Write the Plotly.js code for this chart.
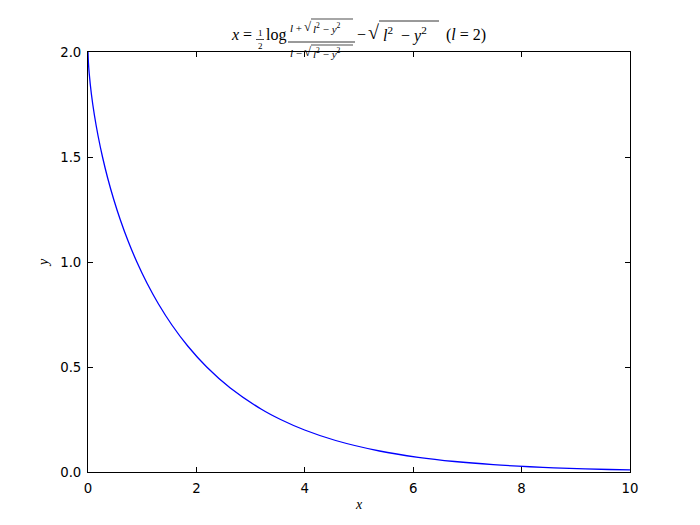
<!DOCTYPE html>
<html>
<head>
<meta charset="utf-8">
<script src="https://cdn.plot.ly/plotly-3.0.1.min.js"></script>
<style>html,body{margin:0;padding:0;background:#fff;}#chart{width:700px;height:525px;}</style>
</head>
<body>
<div id="chart"></div>
<script>
// Tractrix points (x, y)
const xValues = [0, 0.0075, 0.0215, 0.0624, 0.1178, 0.1863, 0.2679, 0.3628, 0.4723, 0.5972, 0.7396, 0.9018, 1.0873, 1.3006, 1.5482, 1.8397, 2.1903, 2.6252, 3.1918, 3.5531, 3.9965, 4.5696, 5.3792, 6.0918, 6.7644, 7.4775, 8.1504, 8.5967, 9.1719, 9.618, 10];
const yValues = [2.0, 1.95, 1.9, 1.8, 1.7, 1.6, 1.5, 1.4, 1.3, 1.2, 1.1, 1.0, 0.9, 0.8, 0.7, 0.6, 0.5, 0.4, 0.3, 0.25, 0.2, 0.15, 0.1, 0.07, 0.05, 0.035, 0.025, 0.02, 0.015, 0.012, 0.0099];
const xTicks = [0, 2, 4, 6, 8, 10];
const xTickLabels = ['0', '2', '4', '6', '8', '10'];
const yTicks = [0.0, 0.5, 1.0, 1.5, 2.0];
const yTickLabels = ['0.0', '0.5', '1.0', '1.5', '2.0'];

const M = {l: 88, r: 70, t: 52, b: 53};
const PW = 700 - M.l - M.r, PH = 525 - M.t - M.b;
const px = v => (v - M.l) / PW;
const py = v => (525 - M.b - v) / PH;
const SERIF = 'Liberation Serif, DejaVu Serif, serif';
function ann(text, x, y, size, anchor) {
  return {text: text, xref: 'paper', yref: 'paper', x: px(x), y: py(y),
    xanchor: anchor || 'left', yanchor: 'middle', showarrow: false,
    font: {family: SERIF, size: size, color: '#000'}};
}
function hline(x0, x1, y, w) {
  return {type: 'line', xref: 'paper', yref: 'paper', x0: px(x0), x1: px(x1), y0: py(y), y1: py(y),
    line: {color: '#000', width: w || 0.8}};
}
const RAD = '<i>l</i><sup>2</sup> − <i>y</i><sup>2</sup>';

const annotations = [
  ann('<i>x</i> =', 229, 35, 16),
  ann('1', 260, 33, 9, 'center'),
  ann('2', 260, 46, 9, 'center'),
  ann('log', 264, 35, 16),
  // numerator
  ann('<i>l</i> +', 288, 28, 11),
  ann('√', 302, 26, 13),
  ann(RAD, 311, 28, 11),
  // denominator
  ann('<i>l</i> −', 288, 53, 11),
  ann('√', 302, 51, 13),
  ann(RAD, 311, 53, 11),
  // trailing radical
  ann('−', 355, 35, 16),
  ann('√', 366, 32, 20),
  ann(RAD.replace(' − ', '  − '), 381, 35, 16),
  ann('(<i>l</i> = 2)', 444, 35, 16)
];
const shapes = [
  hline(256, 264, 39.5, 0.7),
  hline(288, 355, 42, 0.8),
  hline(311, 353, 19, 0.7),
  hline(311, 353, 45, 0.7),
  hline(379, 439, 21, 0.8)
];

const trace = {
  x: xValues, y: yValues, type: 'scatter', mode: 'lines',
  line: {color: '#0000ff', width: 1.3, shape: 'spline'},
  hoverinfo: 'skip'
};

const axisCommon = {
  showgrid: false, zeroline: false, showline: true, linecolor: '#000', linewidth: 1,
  mirror: 'allticks', ticks: 'inside', ticklen: 5, tickwidth: 1, tickcolor: '#000',
  tickfont: {family: 'DejaVu Sans, sans-serif', size: 13.3, color: '#000'}
};

const layout = {
  width: 700, height: 525,
  margin: M,
  paper_bgcolor: '#fff', plot_bgcolor: '#fff',
  showlegend: false,
  xaxis: Object.assign({}, axisCommon, {
    range: [0, 10], tickvals: xTicks, ticktext: xTickLabels, ticklabelstandoff: 4,
    title: {text: '<i>x</i>', font: {family: SERIF, size: 14, color: '#000'}, standoff: 4}
  }),
  yaxis: Object.assign({}, axisCommon, {
    range: [0, 2], tickvals: yTicks, ticktext: yTickLabels, ticklabelstandoff: 3,
    title: {text: '<i>y</i>', font: {family: SERIF, size: 14, color: '#000'}, standoff: 8}
  }),
  annotations: annotations,
  shapes: shapes
};

Plotly.newPlot('chart', [trace], layout, {displayModeBar: false, staticPlot: true});
</script>
</body>
</html>
